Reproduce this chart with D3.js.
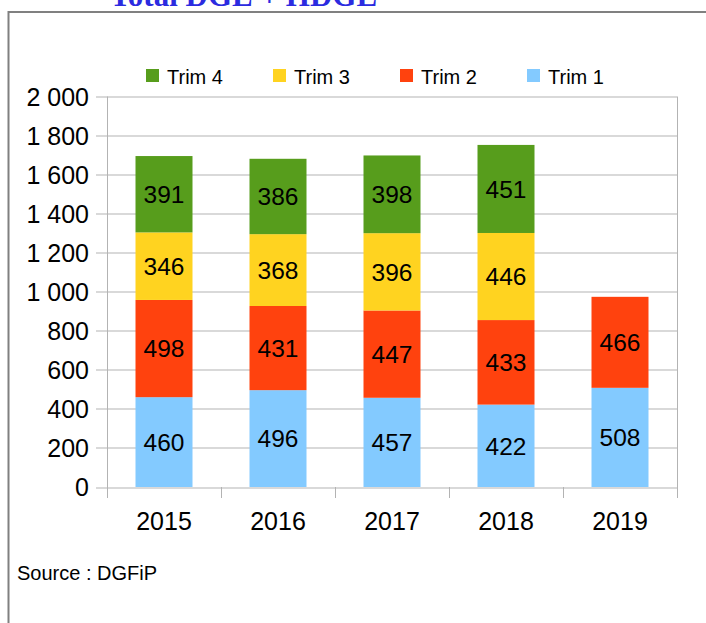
<!DOCTYPE html>
<html>
<head>
<meta charset="utf-8">
<script src="https://cdn.jsdelivr.net/npm/d3@7"></script>
<style>
  body { margin: 0; background: #fff; }
  svg { display: block; font-family: "Liberation Sans", Arial, sans-serif; }
</style>
</head>
<body>
<svg id="chart" width="706" height="623"></svg>
<script>
const years = ['2015', '2016', '2017', '2018', '2019'];
const trim1 = [460, 496, 457, 422, 508];
const trim2 = [498, 431, 447, 433, 466];
const trim3 = [346, 368, 396, 446, null];
const trim4 = [391, 386, 398, 451, null];
const seriesNames = ['Trim 1', 'Trim 2', 'Trim 3', 'Trim 4'];
const yTicks = [0, 200, 400, 600, 800, 1000, 1200, 1400, 1600, 1800, 2000];

const colors = {
  'Trim 1': '#83caff',
  'Trim 2': '#ff420e',
  'Trim 3': '#ffd320',
  'Trim 4': '#579d1c'
};

const width = 706, height = 623;
const margin = {top: 96.5, right: 29, bottom: 136, left: 107};
const gWidth = width - margin.left - margin.right;
const gHeight = height - margin.top - margin.bottom;

const svg = d3.select('#chart');

// title, mostly cut off above the frame
svg.append('text')
  .attr('x', 110)
  .attr('y', 6)
  .attr('font-family', '"Liberation Serif", "Times New Roman", serif')
  .attr('font-weight', 'bold')
  .attr('font-size', 31)
  .attr('fill', '#2b2be0')
  .text('Total DGE + HDGE');

// outer frame
svg.append('rect')
  .attr('x', 8.5)
  .attr('y', 12)
  .attr('width', 800)
  .attr('height', 800)
  .attr('fill', 'none')
  .attr('stroke', '#808080')
  .attr('stroke-width', 2);

const g = svg.append('g')
  .attr('transform', `translate(${margin.left}, ${margin.top})`);

const xScale = d3.scaleBand()
  .domain(years)
  .range([0, gWidth]);
const yScale = d3.scaleLinear()
  .domain([0, 2000])
  .range([gHeight, 0]);

// gridlines
g.append('g')
  .selectAll('line')
  .data(yTicks)
  .join('line')
  .attr('x1', -11)
  .attr('x2', gWidth)
  .attr('y1', d => Math.round(yScale(d)) + 0.5)
  .attr('y2', d => Math.round(yScale(d)) + 0.5)
  .attr('stroke', '#b3b3b3')
  .attr('stroke-width', 1);

// plot area sides and category ticks
const tickXs = years.map(d => xScale(d)).concat([gWidth]);
g.append('g')
  .selectAll('line')
  .data(tickXs)
  .join('line')
  .attr('x1', d => Math.round(d) + 0.5)
  .attr('x2', d => Math.round(d) + 0.5)
  .attr('y1', (d, i) => (i === 0 || i === tickXs.length - 1) ? 0 : gHeight)
  .attr('y2', gHeight + 11)
  .attr('stroke', '#b3b3b3')
  .attr('stroke-width', 1);

// y tick labels
g.append('g')
  .selectAll('text')
  .data(yTicks)
  .join('text')
  .attr('x', -18)
  .attr('y', d => yScale(d))
  .attr('dy', '0.36em')
  .attr('text-anchor', 'end')
  .attr('font-size', 25)
  .attr('fill', '#000')
  .text(d => d3.format(',')(d).replace(',', '\u2009').replace('\u2009', ' '));

// x labels
g.append('g')
  .selectAll('text')
  .data(years)
  .join('text')
  .attr('x', d => xScale(d) + xScale.bandwidth() / 2)
  .attr('y', gHeight + 43)
  .attr('text-anchor', 'middle')
  .attr('font-size', 25)
  .attr('fill', '#000')
  .text(d => d);

// stacked bars
const rows = years.map((y, i) => ({
  year: y,
  'Trim 1': trim1[i],
  'Trim 2': trim2[i],
  'Trim 3': trim3[i] || 0,
  'Trim 4': trim4[i] || 0
}));
const stack = d3.stack().keys(seriesNames);
const layers = stack(rows);

const barW = xScale.bandwidth() * 0.5;
const barOff = xScale.bandwidth() * 0.25;

const layerG = g.append('g')
  .selectAll('g')
  .data(layers)
  .join('g')
  .attr('fill', d => colors[d.key]);

layerG.selectAll('rect')
  .data(d => d.filter(s => s[1] > s[0]))
  .join('rect')
  .attr('x', d => xScale(d.data.year) + barOff)
  .attr('width', barW)
  .attr('y', d => yScale(d[1]))
  .attr('height', d => yScale(d[0]) - yScale(d[1]));

layerG.selectAll('text')
  .data(d => d.filter(s => s[1] > s[0]))
  .join('text')
  .attr('x', d => xScale(d.data.year) + xScale.bandwidth() / 2)
  .attr('y', d => (yScale(d[0]) + yScale(d[1])) / 2)
  .attr('dy', '0.36em')
  .attr('text-anchor', 'middle')
  .attr('font-size', 24.5)
  .attr('fill', '#000')
  .text(d => d[1] - d[0]);

// legend
const legendOrder = ['Trim 4', 'Trim 3', 'Trim 2', 'Trim 1'];
const legend = svg.append('g')
  .selectAll('g')
  .data(legendOrder)
  .join('g')
  .attr('transform', (d, i) => `translate(${146 + i * 127}, 69)`);
legend.append('rect')
  .attr('width', 13)
  .attr('height', 13)
  .attr('fill', d => colors[d]);
legend.append('text')
  .attr('x', 21)
  .attr('y', 14.5)
  .attr('font-size', 20)
  .attr('fill', '#000')
  .text(d => d);

// source
svg.append('text')
  .attr('x', 17)
  .attr('y', 580)
  .attr('font-size', 20)
  .attr('fill', '#000')
  .text('Source : DGFiP');
</script>
</body>
</html>
